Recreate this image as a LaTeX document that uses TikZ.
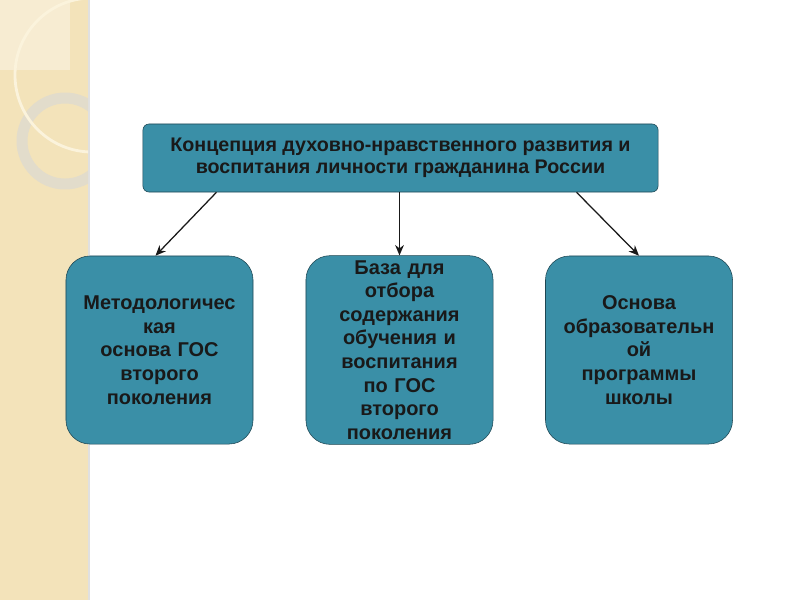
\documentclass[tikz,border=0pt]{standalone}
\usepackage{fontspec}
\setmainfont{Liberation Sans}
\usepackage{xcolor}
\usetikzlibrary{arrows.meta,positioning}
\definecolor{conceptteal}{HTML}{3A8FA7}
\definecolor{concepttealline}{HTML}{1E4652}
\definecolor{stripbeige}{HTML}{F3E3BA}
\definecolor{stripring}{HTML}{E2DCCB}
\definecolor{striparc}{HTML}{FBF3DC}

\begin{document}
\begin{tikzpicture}[
  x=0.025cm, y=-0.025cm,
  topbox/.style={draw=concepttealline, rounded corners=1.5mm, fill=conceptteal, minimum width=12.875cm, minimum height=1.7cm, align=center, font=\bfseries\fontsize{14}{15.8}\selectfont, text=black!90},
  subbox/.style={draw=concepttealline, rounded corners=6mm, fill=conceptteal, minimum width=4.675cm, minimum height=4.7cm, text width=4.4cm, align=center, font=\bfseries\fontsize{14.2}{16.8}\selectfont, text=black!90},
  arrow/.style={-{Stealth[length=2.6mm,width=2.2mm]}, line width=0.9pt, draw=black!90}
]
\useasboundingbox (0,0) rectangle (800,600);
% background strip
\fill[stripbeige] (0,0) rectangle (88,600);
\fill[black!12] (88,0) rectangle (90,600);
\begin{scope}
  \clip (0,0) rectangle (88,600);
  \fill[white, opacity=0.35] (0,0) rectangle (70,70);
  \draw[stripring, line width=7.8pt] (65,141) circle (43);
  \draw[striparc, line width=2pt] (92,75) circle (77);
\end{scope}

\node[topbox] (concept) at (400.5,158) {Концепция духовно-нравственного развития и\\воспитания личности гражданина России};
\node[subbox] (method) at (159.5,350) {Методологичес\\кая\\основа ГОС\\второго\\поколения};
\node[subbox] (base) at (399.5,350) {База для\\отбора\\содержания\\обучения и\\воспитания\\по ГОС\\второго\\поколения};
\node[subbox] (school) at (639,350) {Основа\\образовательн\\ой\\программы\\школы};

\draw[arrow] ([xshift=-4.6cm]concept.south) -- ([xshift=-0.1cm]method.north);
\draw[arrow] (concept.south -| base.north) -- (base.north);
\draw[arrow] ([xshift=4.4cm]concept.south) -- (school.north);
\end{tikzpicture}
\end{document}
